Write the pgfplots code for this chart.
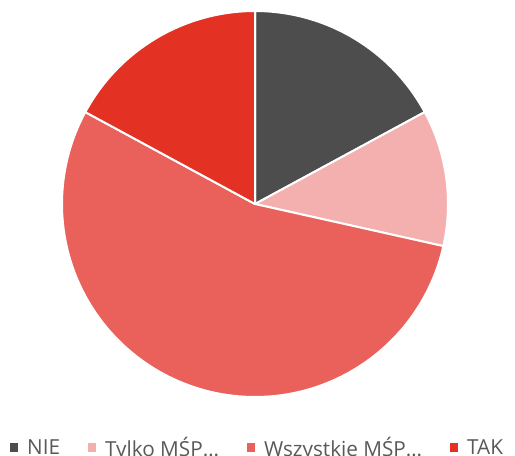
\documentclass[border=0pt]{standalone}
\usepackage{fontspec}
\setmainfont{Open Sans}
\usepackage{pgfplots}
\pgfplotsset{compat=1.18}
\definecolor{cNie}{HTML}{4D4D4D}
\definecolor{cTylko}{HTML}{F3B0AE}
\definecolor{cWsz}{HTML}{E9615A}
\definecolor{cTak}{HTML}{E33224}
\definecolor{txt}{HTML}{595959}
\begin{document}
\begin{tikzpicture}
\def\cx{255}\def\cy{252}\def\r{193}
% slice values (percent)
\def\vNie{17.1}\def\vTylko{11.4}\def\vWsz{54.4}\def\vTak{17.1}
\pgfmathsetmacro\aA{0}
\pgfmathsetmacro\aB{\aA+\vNie*3.6}
\pgfmathsetmacro\aC{\aB+\vTylko*3.6}
\pgfmathsetmacro\aD{\aC+\vWsz*3.6}
\pgfmathsetmacro\aE{\aD+\vTak*3.6}
\begin{axis}[at={(0,0)},anchor=south west, x=1bp,y=1bp,
 xmin=0,xmax=515,ymin=0,ymax=456, hide axis, clip=false,
 legend columns=-1,
 legend style={draw=none, fill=none, at={(axis cs:10,8.5)}, anchor=west, inner sep=0pt,
   font=\fontsize{20.8}{24}\selectfont, text=txt, nodes={inner sep=0pt},
   /tikz/every odd column/.append style={column sep=9bp},
   /tikz/every even column/.append style={column sep=28bp}},
 legend image code/.code={\path[#1,draw=none] (0bp,-4bp) rectangle (8bp,4bp);},
]
\addplot[fill=cNie, draw=white, line width=2bp, line join=round, domain=\aA:\aB, samples=60, variable=\t]
  ({\cx+\r*sin(\t)},{\cy+\r*cos(\t)}) -- (axis cs:\cx,\cy) -- cycle;
\addlegendentry{NIE}
\addplot[fill=cTylko, draw=white, line width=2bp, line join=round, domain=\aB:\aC, samples=60, variable=\t]
  ({\cx+\r*sin(\t)},{\cy+\r*cos(\t)}) -- (axis cs:\cx,\cy) -- cycle;
\addlegendentry{Tylko MŚP…}
\addplot[fill=cWsz, draw=white, line width=2bp, line join=round, domain=\aC:\aD, samples=120, variable=\t]
  ({\cx+\r*sin(\t)},{\cy+\r*cos(\t)}) -- (axis cs:\cx,\cy) -- cycle;
\addlegendentry{Wszystkie MŚP…}
\addplot[fill=cTak, draw=white, line width=2bp, line join=round, domain=\aD:\aE, samples=60, variable=\t]
  ({\cx+\r*sin(\t)},{\cy+\r*cos(\t)}) -- (axis cs:\cx,\cy) -- cycle;
\addlegendentry{TAK}
\end{axis}
\pgfresetboundingbox
\useasboundingbox (0,0) rectangle (515bp,456bp);
\end{tikzpicture}
\end{document}
